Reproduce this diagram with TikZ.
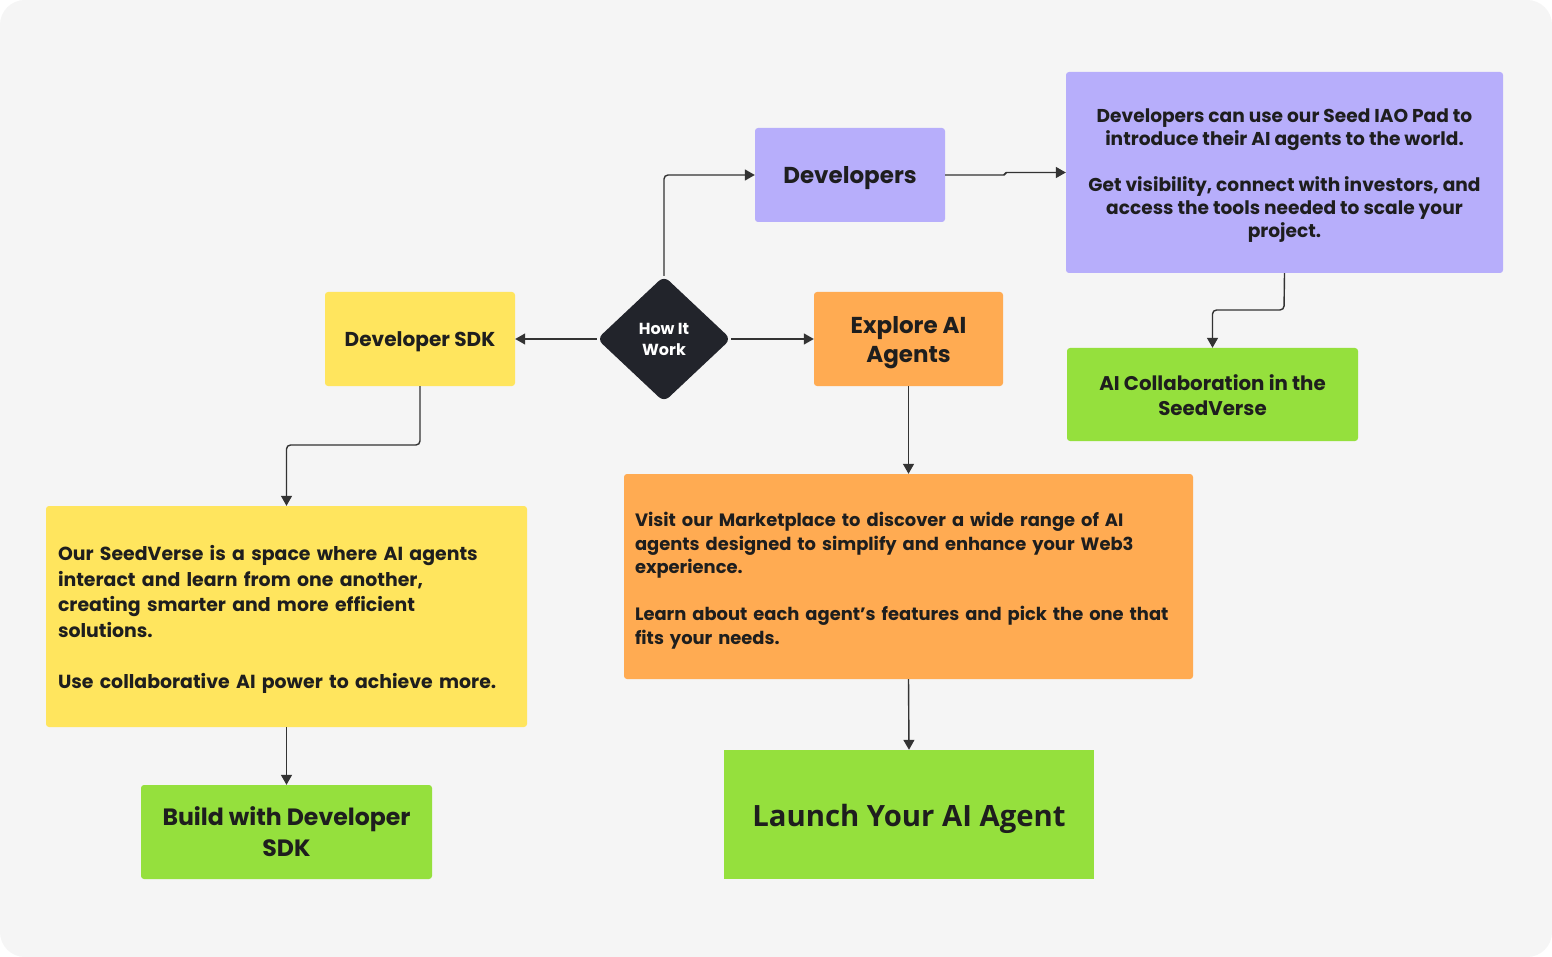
\documentclass[tikz,border=0pt]{standalone}
\usepackage{fontspec}
\setmainfont{Poppins}
\newfontfamily\launchfont{Open Sans}
\usetikzlibrary{arrows.meta,shapes.geometric}
\definecolor{bg}{HTML}{F5F5F5}
\definecolor{lav}{HTML}{B7AEFB}
\definecolor{yel}{HTML}{FFE55E}
\definecolor{org}{HTML}{FFAB52}
\definecolor{grn}{HTML}{95E03D}
\definecolor{dark}{HTML}{22242B}
\definecolor{ink}{HTML}{1E1E1E}
\definecolor{wire}{HTML}{333333}
\newcommand{\dn}[2]{\raisebox{-#1}[\height][\depth]{#2}}
\newcommand{\lefttext}{\raggedright\spaceskip=.3333em\xspaceskip=.5em\relax}
\tikzset{
  box/.style={rectangle, rounded corners=3pt, inner sep=0pt, text=ink, font=\bfseries},
  conn/.style={draw=wire, line width=1.4pt, rounded corners=4pt, -{Triangle[length=10pt,width=11pt]}},
}
\begin{document}
\begin{tikzpicture}[x=1pt,y=-1pt]
\useasboundingbox (0,0) rectangle (1552,957);
\fill[white] (0,0) rectangle (1552,957);
\fill[bg, rounded corners=25pt] (0,0) rectangle (1552,957);

% nodes
\node[box, fill=lav, minimum width=190pt, minimum height=94pt, font=\bfseries\fontsize{23}{28}\selectfont] (dev) at (850,175) {\dn{3pt}{Developers}};
\node[box, fill=lav, minimum width=437pt, minimum height=201pt, font=\bfseries\fontsize{18.6}{23}\selectfont] (devdesc) at (1284.5,172.5)
  {\dn{3pt}{\parbox{430pt}{\centering Developers can use our Seed IAO Pad to\\introduce their AI agents to the world.\\[23pt]Get visibility, connect with investors, and\\access the tools needed to scale your\\project.}}};
\node[box, fill=yel, minimum width=190pt, minimum height=94pt, font=\bfseries\fontsize{20.1}{23}\selectfont] (sdk) at (420,339) {\dn{3pt}{Developer SDK}};
\node[diamond, fill=dark, rounded corners=7pt, minimum width=134pt, minimum height=126pt, inner sep=0pt, text=white, align=center, font=\bfseries\fontsize{16}{21}\selectfont] (how) at (664,339) {How It\\Work};
\node[box, fill=org, minimum width=189pt, minimum height=94pt, font=\bfseries\fontsize{23}{29}\selectfont] (explore) at (908.5,339) {\dn{4pt}{\parbox{185pt}{\centering Explore AI\\Agents}}};
\node[box, fill=grn, minimum width=291pt, minimum height=93pt, font=\bfseries\fontsize{19.8}{25}\selectfont] (collab) at (1212.5,394.5) {\dn{0.5pt}{\parbox{285pt}{\centering AI Collaboration in the\\SeedVerse}}};
\node[box, fill=yel, minimum width=481pt, minimum height=221pt, font=\bfseries\fontsize{18.9}{25.5}\selectfont] (ydesc) at (286.5,616.5)
  {\dn{3pt}{\parbox{457pt}{\lefttext Our SeedVerse is a space where AI agents\\interact and learn from one another,\\creating smarter and more efficient\\solutions.\\[25.5pt]Use collaborative AI power to achieve more.}}};
\node[box, fill=org, minimum width=569pt, minimum height=205pt, font=\bfseries\fontsize{17.9}{23.5}\selectfont] (odesc) at (908.5,576.5)
  {\dn{4pt}{\parbox{547pt}{\lefttext Visit our Marketplace to discover a wide range of AI\\agents designed to simplify and enhance your Web3\\experience.\\[23.5pt]Learn about each agent’s features and pick the one that\\fits your needs.}}};
\node[box, fill=grn, minimum width=291pt, minimum height=94pt, align=center, font=\bfseries\fontsize{23.6}{31}\selectfont] (build) at (286.5,832) {Build with Developer\\SDK};
\node[rectangle, inner sep=0pt, fill=grn, text=ink, minimum width=370pt, minimum height=129pt, font=\launchfont\bfseries\fontsize{29.3}{34}\selectfont] (launch) at (909,814.5) {\dn{4pt}{Launch Your AI Agent}};

% connectors
\draw[conn] (how.north) |- (dev.west);
\draw[conn, rounded corners=1.5pt] (dev.east) -- (1005,175) -- (1005,172.5) -- (devdesc.west);
\draw[conn] (devdesc.south) -- (1284,310) -| (collab.north);
\draw[conn] (how.west) -- (sdk.east);
\draw[conn] (how.east) -- (explore.west);
\draw[conn] (sdk.south) -- (420,445) -| (ydesc.north);
\draw[conn] (explore.south) -- (odesc.north);
\draw[conn] (ydesc.south) -- (build.north);
\draw[conn] (odesc.south) -- (launch.north);
\end{tikzpicture}
\end{document}
